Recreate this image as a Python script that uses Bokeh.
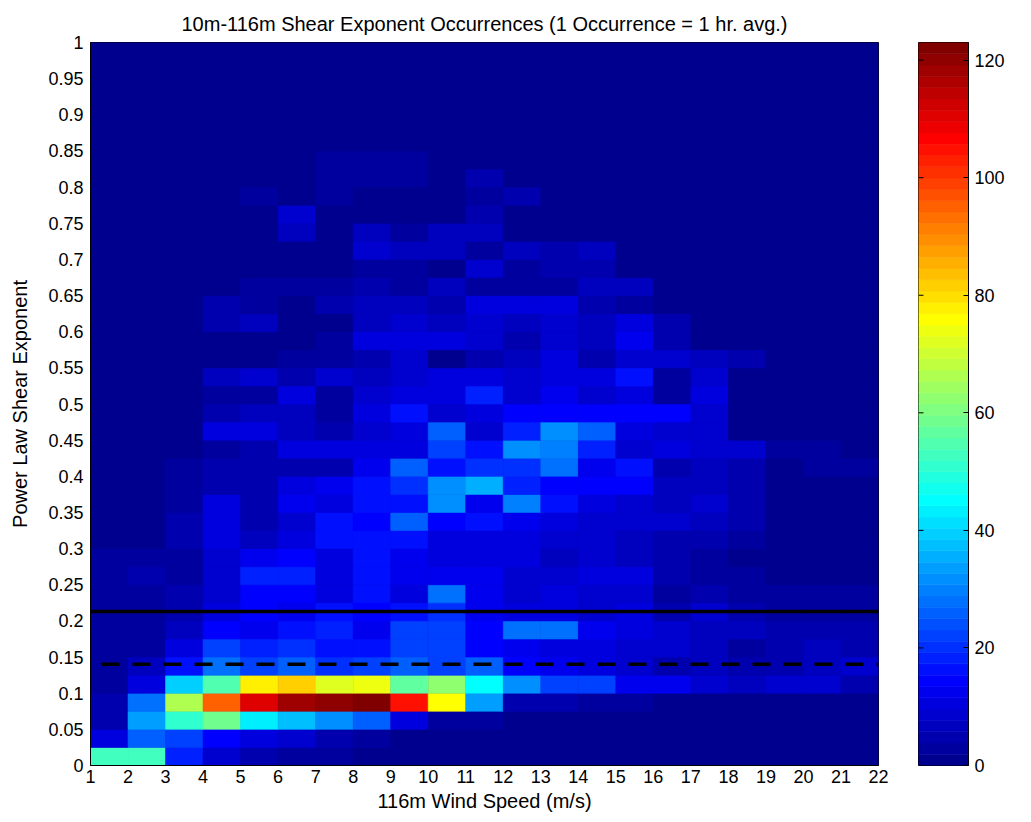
import numpy as np
from bokeh.plotting import figure
from bokeh.layouts import row
from bokeh.models import (LinearColorMapper, FixedTicker, NumeralTickFormatter,
                          Range1d, ColumnDataSource, Span)
from bokeh.transform import transform
from bokeh.embed import file_html
from bokeh.resources import INLINE

# ---------------- data ----------------
wind_speed_ticks = list(range(1, 23))          # 116m wind speed bin edges (m/s)
shear_bin_width = 0.025                         # shear exponent bin size
shear_ticks = [round(0.05 * i, 2) for i in range(21)]
colorbar_ticks = [0, 20, 40, 60, 80, 100, 120]
color_max = 123
solid_shear = 0.213
dashed_shear = 0.14

# occurrences per wind speed bin (1-2, 2-3, ..., 21-22) for each shear bin
occ_00 = [52, 52, 18, 8, 4, 3, 2, 1, 1, 1, 0, 0, 0, 0, 0, 0, 0, 0, 0, 0, 0]
occ_01 = [11, 26, 22, 15, 10, 8, 5, 2, 1, 1, 1, 0, 0, 0, 0, 0, 0, 0, 0, 0, 0]
occ_02 = [4, 33, 50, 58, 43, 37, 32, 25, 11, 3, 2, 1, 1, 1, 0, 0, 0, 0, 0, 0, 0]
occ_03 = [4, 27, 67, 95, 111, 119, 121, 123, 105, 75, 33, 5, 4, 2, 2, 1, 1, 0, 0, 0, 0]
occ_04 = [3, 10, 40, 54, 78, 82, 72, 74, 56, 62, 46, 32, 22, 22, 13, 13, 9, 6, 9, 8, 4]
occ_05 = [3, 6, 16, 27, 23, 25, 20, 23, 25, 23, 25, 15, 13, 11, 8, 5, 6, 5, 5, 6, 9]
occ_06 = [3, 3, 10, 23, 19, 20, 17, 17, 22, 22, 15, 13, 11, 10, 9, 8, 6, 3, 5, 6, 5]
occ_07 = [3, 3, 6, 15, 13, 16, 19, 13, 22, 22, 15, 28, 27, 13, 10, 8, 6, 6, 4, 5, 4]
occ_08 = [3, 3, 5, 11, 15, 13, 16, 15, 17, 20, 13, 11, 10, 9, 11, 4, 9, 4, 3, 3, 2]
occ_09 = [2, 3, 5, 9, 15, 15, 11, 17, 11, 27, 13, 9, 10, 9, 8, 3, 4, 3, 2, 2, 2]
occ_10 = [2, 4, 3, 8, 18, 18, 11, 16, 13, 13, 13, 8, 9, 11, 11, 5, 3, 2, 1, 1, 1]
occ_11 = [2, 2, 3, 9, 13, 15, 11, 16, 13, 11, 10, 10, 6, 8, 6, 4, 3, 1, 1, 1, 1]
occ_12 = [0, 0, 4, 10, 6, 10, 16, 16, 16, 11, 11, 10, 8, 8, 6, 5, 4, 2, 0, 0, 0]
occ_13 = [0, 0, 5, 11, 5, 9, 17, 15, 25, 15, 17, 13, 10, 9, 8, 8, 6, 5, 0, 0, 0]
occ_14 = [0, 0, 3, 11, 5, 13, 10, 16, 16, 31, 13, 30, 16, 11, 8, 6, 8, 5, 0, 0, 0]
occ_15 = [0, 0, 2, 4, 4, 10, 13, 17, 20, 32, 36, 18, 15, 14, 15, 6, 6, 5, 1, 0, 0]
occ_16 = [0, 0, 2, 5, 5, 4, 5, 13, 26, 16, 21, 21, 28, 13, 16, 5, 6, 4, 1, 3, 2]
occ_17 = [0, 0, 1, 3, 5, 11, 11, 11, 10, 23, 17, 31, 29, 18, 9, 11, 8, 9, 3, 3, 0]
occ_18 = [0, 0, 0, 10, 10, 6, 4, 9, 10, 25, 9, 18, 31, 26, 11, 9, 8, 0, 0, 0, 0]
occ_19 = [0, 0, 0, 5, 6, 6, 3, 11, 16, 9, 10, 14, 15, 15, 15, 14, 8, 0, 0, 0, 0]
occ_20 = [0, 0, 0, 3, 3, 10, 3, 8, 11, 10, 18, 8, 13, 9, 11, 2, 10, 0, 0, 0, 0]
occ_21 = [0, 0, 0, 6, 8, 4, 8, 6, 9, 10, 10, 8, 11, 11, 16, 2, 8, 0, 0, 0, 0]
occ_22 = [0, 0, 0, 1, 1, 2, 2, 4, 8, 1, 4, 6, 10, 5, 9, 8, 6, 5, 0, 0, 0]
occ_23 = [0, 0, 0, 1, 1, 1, 3, 10, 10, 11, 9, 5, 8, 6, 13, 4, 0, 0, 0, 0, 0]
occ_24 = [0, 0, 0, 5, 6, 1, 1, 6, 8, 6, 8, 6, 8, 6, 11, 4, 0, 0, 0, 0, 0]
occ_25 = [0, 0, 0, 4, 3, 1, 4, 7, 6, 4, 11, 11, 11, 5, 2, 0, 0, 0, 0, 0, 0]
occ_26 = [0, 0, 0, 0, 3, 3, 3, 5, 3, 7, 2, 2, 3, 7, 7, 0, 0, 0, 0, 0, 0]
occ_27 = [0, 0, 0, 0, 0, 0, 0, 2, 2, 1, 9, 2, 5, 4, 0, 0, 0, 0, 0, 0, 0]
occ_28 = [0, 0, 0, 0, 0, 0, 0, 9, 6, 7, 2, 6, 5, 6, 0, 0, 0, 0, 0, 0, 0]
occ_29 = [0, 0, 0, 0, 0, 7, 0, 7, 2, 7, 7, 1, 0, 0, 0, 0, 0, 0, 0, 0, 0]
occ_30 = [0, 0, 0, 0, 0, 8, 0, 1, 1, 0, 5, 0, 0, 0, 0, 0, 0, 0, 0, 0, 0]
occ_31 = [0, 0, 0, 0, 3, 0, 2, 1, 0, 0, 2, 4, 0, 0, 0, 0, 0, 0, 0, 0, 0]
occ_32 = [0, 0, 0, 0, 0, 0, 2, 2, 3, 0, 4, 0, 0, 0, 0, 0, 0, 0, 0, 0, 0]
occ_33 = [0, 0, 0, 0, 0, 0, 2, 2, 3, 0, 0, 0, 0, 0, 0, 0, 0, 0, 0, 0, 0]
occ_34 = [0, 0, 0, 0, 0, 0, 0, 1, 0, 0, 0, 0, 0, 0, 0, 0, 0, 0, 0, 0, 0]
zero_row = [0] * 21

occurrence_rows = [occ_00, occ_01, occ_02, occ_03, occ_04, occ_05, occ_06, occ_07,
                   occ_08, occ_09, occ_10, occ_11, occ_12, occ_13, occ_14, occ_15,
                   occ_16, occ_17, occ_18, occ_19, occ_20, occ_21, occ_22, occ_23,
                   occ_24, occ_25, occ_26, occ_27, occ_28, occ_29, occ_30, occ_31,
                   occ_32, occ_33, occ_34] + [zero_row] * 5


# ---------------- MATLAB jet(64) colormap ----------------
def jet(n=64):
    m = int(np.ceil(n / 4))
    u = np.concatenate([np.arange(1, m + 1) / m, np.ones(m - 1), np.arange(m, 0, -1) / m])
    g = int(np.ceil(m / 2)) - (1 if n % 4 == 1 else 0) + np.arange(1, len(u) + 1)
    r = g + m
    b = g - m
    J = np.zeros((n, 3))
    for arr, ch in ((r, 0), (g, 1), (b, 2)):
        mask = (arr >= 1) & (arr <= n)
        J[arr[mask] - 1, ch] = u[mask]
    return ["#%02x%02x%02x" % tuple(int(round(c * 255)) for c in rgb) for rgb in J]


palette = jet(64)
mapper = LinearColorMapper(palette=palette, low=0, high=color_max)

left, right, bottom, top, count = [], [], [], [], []
for ri, vals in enumerate(occurrence_rows):
    for ci, v in enumerate(vals):
        left.append(wind_speed_ticks[ci])
        right.append(wind_speed_ticks[ci + 1])
        bottom.append(ri * shear_bin_width)
        top.append((ri + 1) * shear_bin_width)
        count.append(v)
src = ColumnDataSource(dict(left=left, right=right, bottom=bottom, top=top, count=count))

FONT = "Liberation Sans"

p = figure(width=908, height=814, x_range=Range1d(1, 22), y_range=Range1d(0, 1),
           output_backend="svg", toolbar_location=None,
           min_border_left=90, min_border_right=30, min_border_top=42, min_border_bottom=48)
p.background_fill_color = palette[0]
p.border_fill_color = "white"
p.outline_line_color = "black"
p.grid.visible = False

p.quad(left="left", right="right", bottom="bottom", top="top", source=src,
       fill_color=transform("count", mapper), line_color=transform("count", mapper),
       line_width=0.6)

p.add_layout(Span(location=solid_shear, dimension="width", line_color="black", line_width=3.5))
p.add_layout(Span(location=dashed_shear, dimension="width", line_color="black", line_width=3.5,
                  line_dash="18 13", line_dash_offset=20))

p.title.text = "10m-116m Shear Exponent Occurrences (1 Occurrence = 1 hr. avg.)"
p.title.align = "center"
p.title.text_font = FONT
p.title.text_font_size = "20px"
p.title.text_font_style = "normal"
p.title.text_color = "black"
p.title.standoff = 15

p.xaxis.ticker = FixedTicker(ticks=wind_speed_ticks)
p.yaxis.ticker = FixedTicker(ticks=shear_ticks)
p.yaxis.formatter = NumeralTickFormatter(format="0.[00]")
p.xaxis.axis_label = "116m Wind Speed (m/s)"
p.yaxis.axis_label = "Power Law Shear Exponent"
for ax in (p.xaxis, p.yaxis):
    ax.major_tick_in = 0
    ax.major_tick_out = 0
    ax.minor_tick_in = 0
    ax.minor_tick_out = 0
    ax.axis_line_color = "black"
    ax.major_label_text_font = FONT
    ax.major_label_text_font_size = "18px"
    ax.major_label_text_color = "black"
    ax.axis_label_text_font = FONT
    ax.axis_label_text_font_size = "20px"
    ax.axis_label_text_font_style = "normal"
    ax.axis_label_text_color = "black"
p.yaxis.major_label_standoff = 7
p.xaxis.major_label_standoff = 4
p.yaxis.axis_label_standoff = 14
p.xaxis.axis_label_standoff = 4

# ---------------- colorbar ----------------
n = len(palette)
step = color_max / n
cb = figure(width=110, height=814, x_range=Range1d(0, 1), y_range=Range1d(0, color_max),
            output_backend="svg", toolbar_location=None, x_axis_location=None,
            y_axis_location="right",
            min_border_left=10, min_border_right=50, min_border_top=42, min_border_bottom=48)
cb.grid.visible = False
cb.outline_line_color = "black"
cb.quad(left=0, right=1, bottom=[i * step for i in range(n)], top=[(i + 1) * step for i in range(n)],
        fill_color=palette, line_color=palette, line_width=0.6)
# inward tick marks on the left edge of the colorbar
cb.segment(x0=[0] * len(colorbar_ticks), x1=[0.1] * len(colorbar_ticks),
           y0=colorbar_ticks, y1=colorbar_ticks, line_color="black", line_width=1)
cb.yaxis.ticker = FixedTicker(ticks=colorbar_ticks)
cb.yaxis.major_tick_in = 5
cb.yaxis.major_tick_out = 0
cb.yaxis.minor_tick_in = 0
cb.yaxis.minor_tick_out = 0
cb.yaxis.major_label_text_font = FONT
cb.yaxis.major_label_text_font_size = "18px"
cb.yaxis.major_label_text_color = "black"
cb.yaxis.major_label_standoff = 6

layout = row(p, cb)
open("out.html", "w").write(file_html(layout, INLINE))
